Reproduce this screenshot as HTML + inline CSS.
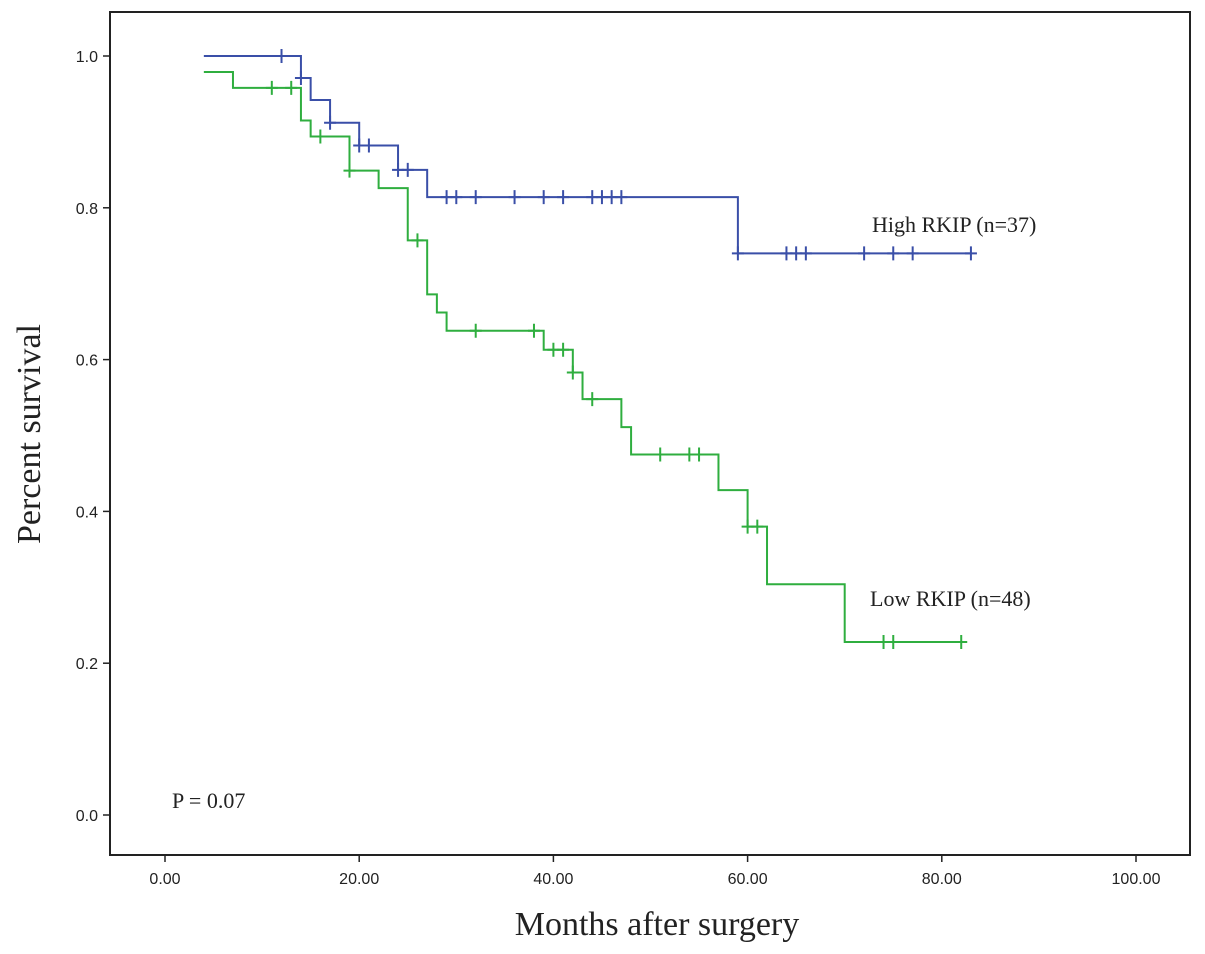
<!DOCTYPE html>
<html><head><meta charset="utf-8"><style>
body{margin:0;background:#fff}
svg{display:block}
</style></head><body>
<svg id="chart" width="1205" height="954" xmlns="http://www.w3.org/2000/svg"></svg>
<script>
const xTicks=[0,20,40,60,80,100];
const xTickLabels=["0.00","20.00","40.00","60.00","80.00","100.00"];
const yTicks=[0,0.2,0.4,0.6,0.8,1.0];
const yTickLabels=["0.0","0.2","0.4","0.6","0.8","1.0"];
const highTimes=[4,14,15,17,20,24,27,59,83];
const highSurv=[1.0,0.971,0.942,0.912,0.882,0.85,0.814,0.740,0.740];
const highCensor=[12,14,17,20,21,24,25,29,30,32,36,39,41,44,45,46,47,59,64,65,66,72,75,77,83];
const lowTimes=[4,7,14,15,19,22,25,27,28,29,39,42,43,47,48,57,60,62,70,82];
const lowSurv=[0.979,0.958,0.915,0.894,0.849,0.826,0.757,0.686,0.662,0.638,0.613,0.583,0.548,0.511,0.475,0.428,0.380,0.304,0.228,0.228];
const lowCensor=[11,13,16,19,26,32,38,40,41,42,44,51,54,55,60,61,74,75,82];

const NS="http://www.w3.org/2000/svg";
const svg=document.getElementById('chart');
const L=110,R=1190,T=12,B=855;
const X=t=>165+t*9.71;
const Y=s=>815-s*759;
function mk(tag,attrs,parent){const e=document.createElementNS(NS,tag);for(const k in attrs)e.setAttribute(k,attrs[k]);(parent||svg).appendChild(e);return e;}

const frame=mk('rect',{x:L,y:T,width:R-L,height:B-T,fill:'none',stroke:'#222','stroke-width':2});



xTicks.forEach((v,i)=>{
  const tk=mk('line',{x1:X(v),x2:X(v),y1:B,y2:B+7,stroke:'#222','stroke-width':1.5});
  
  
  const tx=mk('text',{x:X(v),y:B+29,'text-anchor':'middle','font-family':'Liberation Sans, sans-serif','font-size':16,fill:'#222'});
  tx.textContent=xTickLabels[i];
  
  
});
yTicks.forEach((v,i)=>{
  const tk=mk('line',{x1:L-7,x2:L,y1:Y(v),y2:Y(v),stroke:'#222','stroke-width':1.5});
  
  
  const tx=mk('text',{x:L-12,y:Y(v)+6,'text-anchor':'end','font-family':'Liberation Sans, sans-serif','font-size':16,fill:'#222'});
  tx.textContent=yTickLabels[i];
  
  
});

function series(times,surv,cens,color,name){
  let d='M'+X(times[0])+','+Y(surv[0]);
  for(let i=1;i<times.length;i++){d+=' H'+X(times[i])+' V'+Y(surv[i]);}
  const p=mk('path',{d:d,fill:'none',stroke:color,'stroke-width':2});
  
  
  cens.forEach(t=>{
    let s=surv[0];
    for(let i=0;i<times.length;i++){if(times[i]<=t)s=surv[i];}
    const m=mk('path',{d:'M'+(X(t)-6)+','+Y(s)+' H'+(X(t)+6)+' M'+X(t)+','+(Y(s)-7)+' V'+(Y(s)+7),stroke:color,'stroke-width':2,fill:'none'});
    
    
  });
}
series(highTimes,highSurv,highCensor,'#3a4fa8','high-rkip');
series(lowTimes,lowSurv,lowCensor,'#2fae3f','low-rkip');

function txt(x,y,s,size,name,anchor,rot){
  const t=mk('text',{x:x,y:y,'font-family':'Liberation Serif, serif','font-size':size,fill:'#222','text-anchor':anchor||'start'});
  if(rot)t.setAttribute('transform',rot);
  t.textContent=s;
  
  
}
txt(872,232,'High RKIP (n=37)',22,'high-rkip-label');
txt(870,606,'Low RKIP (n=48)',22,'low-rkip-label');
txt(172,808,'P = 0.07',22,'p-value-label');
txt(657,935,'Months after surgery',34,'x-axis-title','middle');
txt(0,0,'Percent survival',34,'y-axis-title','middle','translate(40,434) rotate(-90)');
</script>
</body></html>
